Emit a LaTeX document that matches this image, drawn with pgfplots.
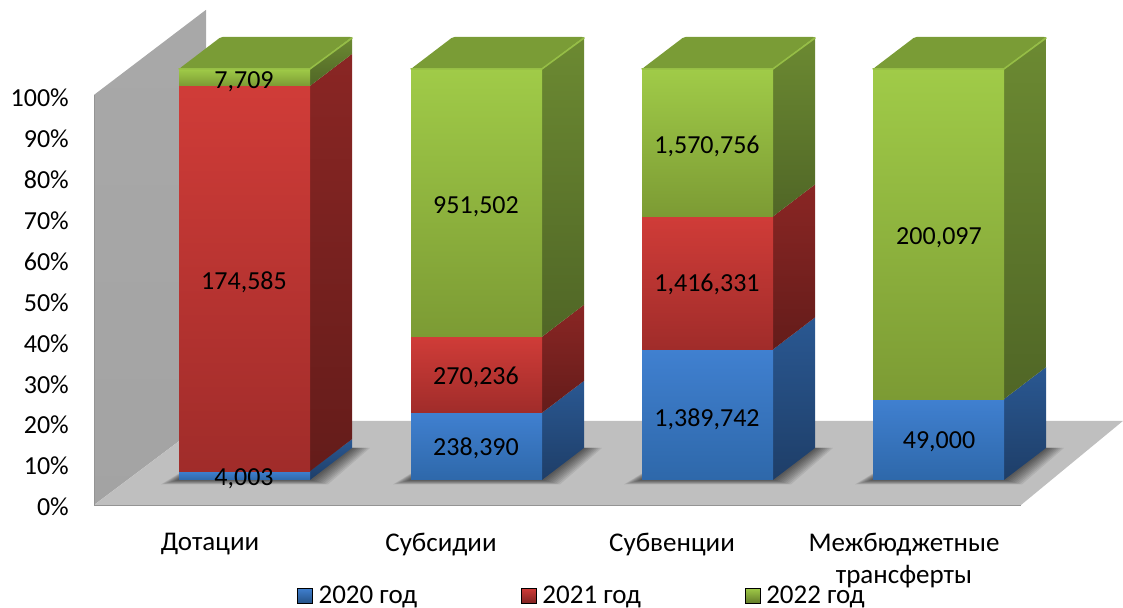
\documentclass[border=0pt]{standalone}
\usepackage{fontspec}
\setmainfont{Carlito}
\usepackage{pgfplots}
\pgfplotsset{compat=1.18}
\definecolor{blueTop}{RGB}{64,128,208}
\definecolor{blueBot}{RGB}{46,104,170}
\definecolor{blueSideTop}{RGB}{42,88,146}
\definecolor{blueSideBot}{RGB}{30,62,104}
\definecolor{redTop}{RGB}{208,60,56}
\definecolor{redBot}{RGB}{160,44,42}
\definecolor{redSideTop}{RGB}{138,38,36}
\definecolor{redSideBot}{RGB}{100,28,26}
\definecolor{greenTop}{RGB}{160,203,72}
\definecolor{greenBot}{RGB}{124,155,52}
\definecolor{greenSideTop}{RGB}{108,138,50}
\definecolor{greenSideBot}{RGB}{80,102,38}
\definecolor{greenLid}{RGB}{122,156,54}
\definecolor{greenRim}{RGB}{150,190,70}
\newcommand{\lbl}{\fontsize{26}{32}\selectfont}
\newcommand{\cat}{\fontsize{27}{32}\selectfont}
% one stacked piece: left x in px, cumulative shares in %, colour prefix
\newcommand{\seg}[4]{%
  \pgfmathsetmacro\yl{6.36+1.005*#2}%
  \pgfmathsetmacro\yh{6.36+1.005*#3}%
  \pgfmathsetmacro\ylb{\yl+7.82}%
  \pgfmathsetmacro\yhb{\yh+7.82}%
  \pgfmathsetmacro\xr{#1+131}%
  \pgfmathsetmacro\xs{#1+173}%
  \edef\tmp{%
    \noexpand\addplot[forget plot,draw=none,top color=#4SideTop,bottom color=#4SideBot]
      coordinates {(\xr,\yl)(\xs,\ylb)(\xs,\yhb)(\xr,\yh)} -- cycle;
    \noexpand\addplot[forget plot,draw=none,top color=#4Top,bottom color=#4Bot]
      coordinates {(#1,\yl)(\xr,\yl)(\xr,\yh)(#1,\yh)} -- cycle;
  }\tmp}
% lid of a bar with its lighter rim
\newcommand{\lid}[1]{%
  \pgfmathsetmacro\xr{#1+131}%
  \pgfmathsetmacro\xs{#1+173}%
  \pgfmathsetmacro\xb{#1+42}%
  \edef\tmp{%
    \noexpand\addplot[forget plot,draw=none,fill=greenLid,rounded corners=2pt]
      coordinates {(#1,106.86)(\xr,106.86)(\xs,114.68)(\xb,114.68)} -- cycle;
    \noexpand\addplot[forget plot,greenRim,line width=1.6pt,line cap=round]
      coordinates {(#1,106.86)(\xr,106.86)(\xs,114.4)};
  }\tmp}
% soft shadow on the floor, a few see-through layers
\newcommand{\shadowlayer}[2]{%
  \pgfmathsetmacro\xa{#1-#2}%
  \pgfmathsetmacro\xc{#1+131+#2}%
  \pgfmathsetmacro\xd{#1+173+#2}%
  \pgfmathsetmacro\xe{#1+42}%
  \pgfmathsetmacro\yy{6.36-0.06*#2}%
  \edef\tmp{%
    \noexpand\addplot[forget plot,draw=none,fill=black,fill opacity=0.08]
      coordinates {(\xa,\yy)(\xc,\yy)(\xd,14.18)(\xe,14.18)} -- cycle;
  }\tmp}
\newcommand{\shadow}[1]{\shadowlayer{#1}{18}\shadowlayer{#1}{16}\shadowlayer{#1}{14}\shadowlayer{#1}{12}\shadowlayer{#1}{10}\shadowlayer{#1}{8}\shadowlayer{#1}{6}\shadowlayer{#1}{4}\shadowlayer{#1}{2}}
\begin{document}
\begin{tikzpicture}
\useasboundingbox (0,0) rectangle (1123pt,607pt);
\begin{axis}[
    scale only axis, width=1123pt, height=607pt,
    at={(0,0)}, anchor=south west,
    xmin=0, xmax=1123, ymin=-24.7, ymax=123.7,
    clip=false,
    axis line style={draw=none},
    major tick length=0pt,
    xtick={210,441,672,904},
    xticklabels={Дотации,Субсидии,Субвенции,{Межбюджетные\\трансферты}},
    xticklabel style={font=\cat,align=center,anchor=north,inner sep=0pt,yshift=74pt},
    ytick={0,10,...,100},
    yticklabels={0\%,10\%,20\%,30\%,40\%,50\%,60\%,70\%,80\%,90\%,100\%},
    yticklabel style={font=\lbl,anchor=east,inner sep=0pt,xshift=69pt,yshift=-1pt},
    legend style={draw=none,fill=none,font=\cat,legend columns=3,inner sep=0pt,
      at={(axis cs:297,-21.9)},anchor=west,
      /tikz/every even column/.append style={column sep=102pt}},
    legend cell align=left,
]
% wall and floor
\addplot[forget plot,draw=none,top color=black!34,bottom color=black!36] coordinates {(94,100.5)(206,121.3)(206,20.8)(94,0.24)} -- cycle;
\addplot[forget plot,draw=none,fill=black!25] coordinates {(94,0.24)(1021,0.24)(1123,20.8)(206,20.8)} -- cycle;
\addplot[forget plot,black!42,line width=1.5pt] coordinates {(94,0.1)(1021,0.1)};
\addplot[forget plot,black!42,line width=0.6pt] coordinates {(94,0.24)(94,100.5)};
\shadow{179}\shadow{411}\shadow{642}\shadow{873}
% Дотации
\seg{179}{0}{2.15}{blue}
\seg{179}{2.15}{95.86}{red}
\seg{179}{95.86}{100}{green}
\lid{179}
% Субсидии
\seg{411}{0}{16.33}{blue}
\seg{411}{16.33}{34.84}{red}
\seg{411}{34.84}{100}{green}
\lid{411}
% Субвенции
\seg{642}{0}{31.75}{blue}
\seg{642}{31.75}{64.11}{red}
\seg{642}{64.11}{100}{green}
\lid{642}
% Межбюджетные трансферты
\seg{873}{0}{19.67}{blue}
\seg{873}{19.67}{100}{green}
\lid{873}
% value labels
\node[font=\lbl] at (axis cs:244,103.7) {7,709};
\node[font=\lbl] at (axis cs:244,54.8) {174,585};
\node[font=\lbl] at (axis cs:244,6.6) {4,003};
\node[font=\lbl] at (axis cs:476,14) {238,390};
\node[font=\lbl] at (axis cs:476,31.4) {270,236};
\node[font=\lbl] at (axis cs:476,73.2) {951,502};
\node[font=\lbl] at (axis cs:707,21.1) {1,389,742};
\node[font=\lbl] at (axis cs:707,54.1) {1,416,331};
\node[font=\lbl] at (axis cs:707,87.9) {1,570,756};
\node[font=\lbl] at (axis cs:939,15.7) {49,000};
\node[font=\lbl] at (axis cs:939,65.6) {200,097};
% legend
\addlegendimage{legend image code/.code={\shade[top color=blueTop,bottom color=blueBot!80!black] (0,-7.5pt) rectangle (15pt,7.5pt);\path (19pt,0);}}
\addlegendentry{2020 год}
\addlegendimage{legend image code/.code={\shade[top color=redTop,bottom color=redBot!80!black] (0,-7.5pt) rectangle (15pt,7.5pt);\path (19pt,0);}}
\addlegendentry{2021 год}
\addlegendimage{legend image code/.code={\shade[top color=greenTop,bottom color=greenBot!80!black] (0,-7.5pt) rectangle (15pt,7.5pt);\path (19pt,0);}}
\addlegendentry{2022 год}
\end{axis}
\end{tikzpicture}
\end{document}
